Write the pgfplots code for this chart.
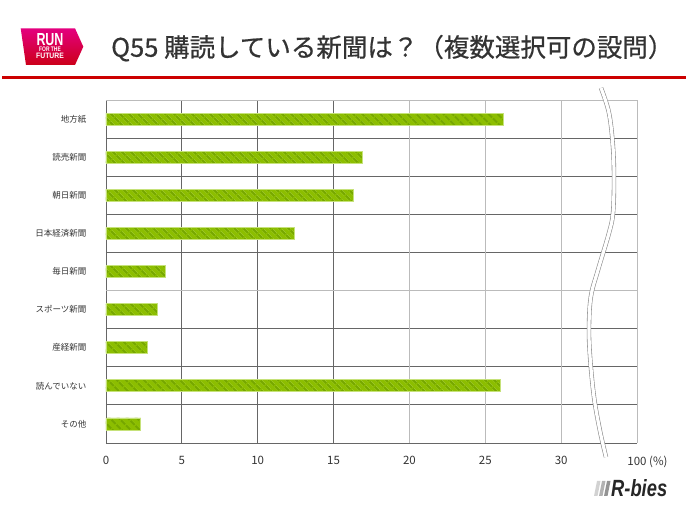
\documentclass[border=0pt]{standalone}
\usepackage{pgfplots}
\pgfplotsset{compat=1.18}
\usepackage{fontspec}
\setmainfont{Noto Sans CJK JP}
\newfontfamily\titlefont[FakeBold=0.6]{Noto Sans CJK JP}
\newfontfamily\lib{Liberation Sans}
\usetikzlibrary{patterns.meta}
\definecolor{barG}{HTML}{8CBE00}
\definecolor{stripeG}{HTML}{76A700}
\definecolor{edgeG}{HTML}{C6E27A}
\definecolor{gridD}{HTML}{666666}
\definecolor{gridL}{HTML}{BBBBBB}
\definecolor{titleC}{HTML}{333333}
\definecolor{redline}{HTML}{CC0000}
\definecolor{logoPink}{HTML}{E4007F}
\definecolor{logoRed}{HTML}{CC0019}
\begin{document}
\begin{tikzpicture}
\path[use as bounding box] (0pt,0pt) rectangle (688pt,516pt);
\begin{axis}[
 at={(106pt,73pt)}, anchor=south west,
 scale only axis, width=531pt, height=343pt,
 xmin=0, xmax=35, ymin=-0.5, ymax=8.5, y dir=reverse,
 axis line style={draw=none},
 major tick length=0pt, minor tick length=0pt,
 xtick={0,5,10,15}, xticklabels={0,5,10,15},
 extra x ticks={20,25,30,35}, extra x tick labels={20,25,30,100\rlap{ (\%)}},
 extra x tick style={xmajorgrids=true, major grid style={gridL, line width=0.9pt}},
 xmajorgrids, major grid style={gridD, line width=0.9pt},
 ytick={0,...,8},
 yticklabels={地方紙,読売新聞,朝日新聞,日本経済新聞,毎日新聞,スポーツ新聞,産経新聞,読んでいない,その他},
 minor ytick={0.5,1.5,2.5,3.5,5.5,6.5,7.5,8.5},
 yminorgrids, minor grid style={gridD, line width=0.9pt},
 extra y ticks={-0.5,4.5}, extra y tick labels={},
 extra y tick style={ymajorgrids=true, major grid style={gridL, line width=0.9pt}},
 xticklabel style={font=\fontsize{11.5}{12}\selectfont, text=titleC, yshift=-10pt},
 yticklabel style={font=\fontsize{8.5}{10}\selectfont, text=titleC, xshift=-16pt},
]
\addplot[xbar, bar width=12pt, preaction={fill=barG},
  pattern={Lines[angle=-45,distance=6.4pt,line width=2.4pt]}, pattern color=stripeG,
  draw=edgeG, line width=0.8pt]
 coordinates {(26.2,0) (16.9,1) (16.3,2) (12.4,3) (3.9,4) (3.4,5) (2.7,6) (26.0,7) (2.3,8)};
\end{axis}
% axis break
\draw[gray!90, line width=0.6pt, double=white, double distance=3.2pt]
 plot[smooth, tension=0.6] coordinates {(601pt,428pt) (609pt,403pt) (613pt,369pt) (614pt,336pt) (613pt,303pt) (609pt,283pt) (598pt,246pt) (591pt,220pt) (589pt,190pt) (590pt,160pt) (594pt,119pt) (600pt,85pt) (606pt,59pt)};
% title
\node[anchor=base west, inner sep=0, text=titleC, font=\fontsize{25.5}{30}\titlefont] at (111pt,459.3pt) {Q55 購読している新聞は？（複数選択可の設問）};
\fill[redline] (2pt,437pt) rectangle (686pt,440pt);
% logo
\shade[top color=logoPink, bottom color=logoRed] (20.7pt,487.7pt) -- (75pt,487.7pt) -- (83.3pt,469.3pt) -- (75pt,451pt) -- (26pt,451pt) -- cycle;
\node[anchor=north, inner sep=0, text=white] at (50pt,483pt) {\vbox{\offinterlineskip\lib\bfseries
 \hbox to 28pt{\hss\resizebox{27pt}{12pt}{RUN}\hss}\kern1.8pt
 \hbox to 28pt{\hss\resizebox{21.7pt}{4.6pt}{FOR THE}\hss}\kern1.2pt
 \hbox to 28pt{\hss\resizebox{27.7pt}{5.4pt}{FUTURE}\hss}}};
% R-bies
\fill[gray!35] (594pt,20pt) -- (597.5pt,20pt) -- (600.5pt,35pt) -- (597pt,35pt) -- cycle;
\fill[gray!60] (599pt,20pt) -- (602.5pt,20pt) -- (605.5pt,35pt) -- (602pt,35pt) -- cycle;
\fill[gray!85] (604pt,20pt) -- (607.5pt,20pt) -- (610.5pt,35pt) -- (607pt,35pt) -- cycle;
\node[anchor=south west, inner sep=0, text=black!85] at (611pt,19pt) {\resizebox{56pt}{17pt}{\lib\bfseries\itshape R-bies}};
\end{tikzpicture}
\end{document}
